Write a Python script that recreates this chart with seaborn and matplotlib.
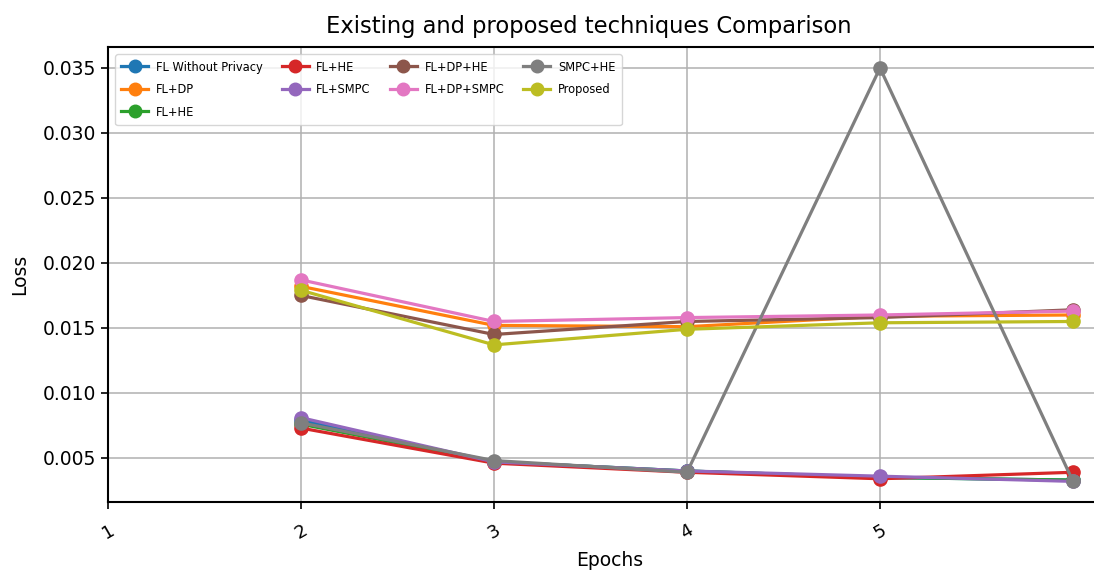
import matplotlib
matplotlib.use("Agg")
import matplotlib.pyplot as plt
import seaborn as sns
import pandas as pd

# Loss per epoch for each technique
epochs = [1, 2, 3, 4, 5]
tick_labels = ["1", "2", "3", "4", "5"]

labels = ["FL Without Privacy", "FL+DP", "FL+HE", "FL+HE", "FL+SMPC",
          "FL+DP+HE", "FL+DP+SMPC", "SMPC+HE", "Proposed"]

fl_without_privacy = [0.0079, 0.0047, 0.0040, 0.0035, 0.0033]
fl_dp = [0.0182, 0.0152, 0.0151, 0.0159, 0.0160]
fl_he_a = [0.0076, 0.0047, 0.0040, 0.0035, 0.0033]
fl_he_b = [0.0073, 0.0046, 0.0039, 0.0034, 0.0039]
fl_smpc = [0.0081, 0.0047, 0.0040, 0.0036, 0.0032]
fl_dp_he = [0.0175, 0.0145, 0.0155, 0.0158, 0.0164]
fl_dp_smpc = [0.0187, 0.0155, 0.0158, 0.0160, 0.0163]
smpc_he = [0.0077, 0.0048, 0.0039, 0.0350, 0.0032]
proposed = [0.0179, 0.0137, 0.0149, 0.0154, 0.0155]

series = [fl_without_privacy, fl_dp, fl_he_a, fl_he_b, fl_smpc,
          fl_dp_he, fl_dp_smpc, smpc_he, proposed]

colors = sns.color_palette("tab10", len(series))

fig = plt.figure(figsize=(10.94, 5.70), dpi=100)
ax = fig.add_axes([0.0987, 0.119, 0.9174, 0.7982])

for name, vals, c in zip(labels, series, colors):
    df = pd.DataFrame({"Epochs": epochs, "Loss": vals})
    sns.lineplot(data=df, x="Epochs", y="Loss", ax=ax, label=name, color=c,
                 marker="o", markersize=9.5, markeredgecolor=c, markeredgewidth=1,
                 linewidth=2.3)

ax.set_xticks(range(len(tick_labels)))
ax.set_xticklabels(tick_labels, rotation=30, fontsize=13)
ax.set_xlim(0, 5.2)
ax.tick_params(axis="y", labelsize=13.5, length=5, width=1.2)
ax.tick_params(axis="x", length=5, width=1.2, pad=9)
ax.set_ylim(0.0016, 0.0366)
ax.set_yticks([0.005, 0.010, 0.015, 0.020, 0.025, 0.030, 0.035])
ax.set_yticklabels(["0.005", "0.010", "0.015", "0.020", "0.025", "0.030", "0.035"])

ax.grid(True, color="#b0b0b0", linewidth=1.1)
ax.set_axisbelow(True)
for s in ax.spines.values():
    s.set_color("black")
    s.set_linewidth(1.5)

ax.set_xlabel("Epochs", fontsize=13.5, labelpad=6)
ax.set_ylabel("Loss", fontsize=13.5, labelpad=10)
ax.set_title("Existing and proposed techniques Comparison", fontsize=16.3,
             pad=10, x=0.479)

ax.legend(loc="upper left", ncol=4, markerscale=0.95,
          prop={"family": "DejaVu Sans", "stretch": "condensed", "size": 9.2},
          handlelength=2.1, handletextpad=0.6, labelspacing=0.75,
          columnspacing=1.5, borderpad=0.5, borderaxespad=0.55)

fig.savefig("out.png", dpi=100)
